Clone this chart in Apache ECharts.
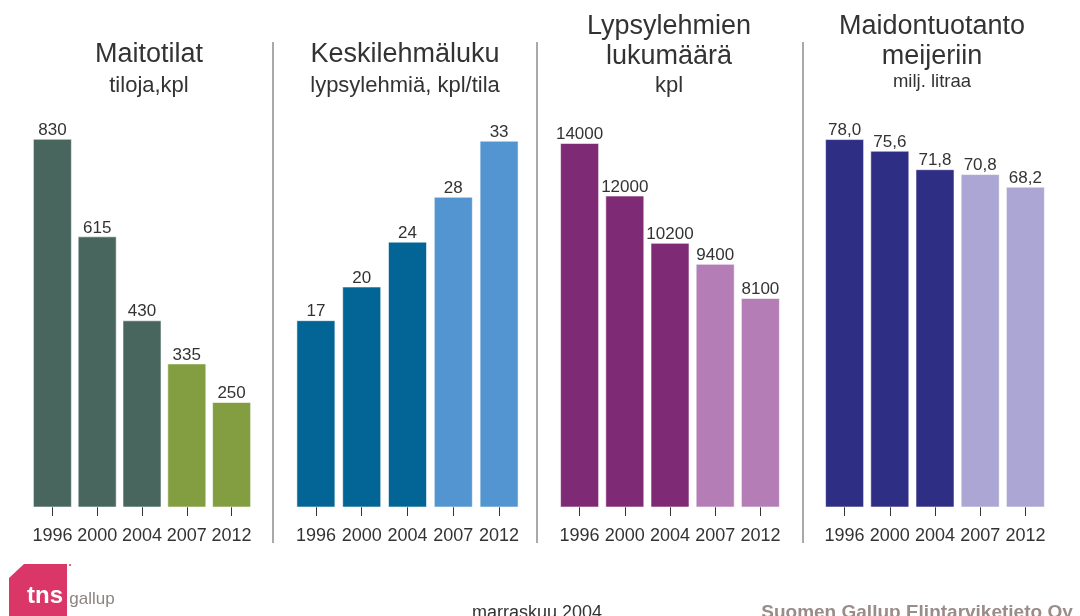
<!DOCTYPE html>
<html>
<head>
<meta charset="utf-8">
<title>Maitotilat</title>
<script src="https://cdn.jsdelivr.net/npm/echarts@6/dist/echarts.min.js"></script>
<style>
  html, body { margin: 0; padding: 0; background: #fff; }
  #main { width: 1080px; height: 616px; }
</style>
</head>
<body>
<div id="main"></div>
<script>
// vuodet ja arvot
const years = ['1996', '2000', '2004', '2007', '2012']
const ennuste = [false, false, false, true, true] // 2007 ja 2012 vaaleammalla
const maitotilat = [830, 615, 430, 335, 250]
const keskilehmaluku = [17, 20, 24, 28, 33]
const lypsylehmat = [14000, 12000, 10200, 9400, 8100]
const maidontuotanto = [78.0, 75.6, 71.8, 70.8, 68.2]

const FONT = '"Liberation Sans", Arial, Helvetica, sans-serif'
const TEXT = '#333'

// paneelit: grid-paikat, akselin rajat ja värit
const panels = [
  { data: maitotilat, left: 30, width: 224, min: 18.6, max: 900, colors: ['#48665e', '#829e41'] },
  { data: keskilehmaluku, left: 293, width: 229, min: 0.35, max: 36, colors: ['#036596', '#5295d0'] },
  { data: lypsylehmat, left: 557, width: 226, min: 145, max: 15371, colors: ['#7f2a74', '#b47db6'] },
  { data: maidontuotanto, left: 822, width: 226, min: 2.27, max: 84.6, colors: ['#2e2e84', '#aba6d3'], decimals: true }
]

const grid = [], xAxis = [], yAxis = [], series = []
panels.forEach((p, i) => {
  grid.push({ left: p.left, width: p.width, top: 107, bottom: 109 })
  xAxis.push({
    type: 'category',
    gridIndex: i,
    data: years,
    axisLine: { show: false },
    axisTick: { show: true, alignWithLabel: true, length: 9, lineStyle: { color: '#333', width: 1 } },
    axisLabel: { color: TEXT, fontSize: 18, fontFamily: FONT, margin: 20, interval: 0 }
  })
  yAxis.push({
    type: 'value',
    gridIndex: i,
    min: p.min,
    max: p.max,
    show: false,
    splitLine: { show: false }
  })
  series.push({
    type: 'bar',
    xAxisIndex: i,
    yAxisIndex: i,
    barWidth: 39,
    data: p.data.map((v, j) => ({
      value: v,
      itemStyle: { color: ennuste[j] ? p.colors[1] : p.colors[0] }
    })),
    itemStyle: { borderColor: 'rgba(255,255,255,0.55)', borderWidth: 1 },
    label: {
      show: true,
      position: 'top',
      distance: 0,
      color: TEXT,
      fontSize: 17,
      fontFamily: FONT,
      formatter: prm => p.decimals ? prm.value.toFixed(1).replace('.', ',') : String(prm.value)
    }
  })
})

function txt(x, y, text, size, extra) {
  return {
    type: 'text', x, y,
    style: Object.assign({
      text, fill: TEXT, font: size + 'px ' + FONT,
      textAlign: 'center', textVerticalAlign: 'middle'
    }, extra || {})
  }
}
function vline(x) {
  return { type: 'line', shape: { x1: x, y1: 42, x2: x, y2: 543 }, style: { stroke: '#8c8c8c', lineWidth: 1.5 } }
}

const graphic = [
  vline(273), vline(537), vline(803),
  // otsikot
  txt(149, 55, 'Maitotilat', 27),
  txt(149, 86, 'tiloja,kpl', 22),
  txt(405, 55, 'Keskilehmäluku', 27),
  txt(405, 86, 'lypsylehmiä, kpl/tila', 22),
  txt(669, 27, 'Lypsylehmien', 27),
  txt(669, 57, 'lukumäärä', 27),
  txt(669, 86, 'kpl', 22),
  txt(932, 27, 'Maidontuotanto', 27),
  txt(932, 57, 'meijeriin', 27),
  txt(932, 82, 'milj. litraa', 18.5),
  // logo
  {
    type: 'polygon',
    shape: { points: [[24, 564], [67, 564], [67, 616], [9, 616], [9, 578]] },
    style: { fill: '#da3768' }
  },
  { type: 'circle', shape: { cx: 70, cy: 565, r: 1 }, style: { fill: '#da3768' } },
  txt(45, 596, 'tns', 24, { fill: '#fff', font: 'bold 24px ' + FONT }),
  txt(92, 599, 'gallup', 17, { fill: '#8c8480' }),
  // alatunniste
  txt(537, 613, 'marraskuu 2004', 18),
  txt(917, 613, 'Suomen Gallup Elintarviketieto Oy', 19, { fill: '#9a8c88', font: 'bold 19px ' + FONT })
]

const myChart = echarts.init(document.getElementById('main'), null, { renderer: 'canvas' })
myChart.setOption({
  animation: false,
  backgroundColor: '#fff',
  grid, xAxis, yAxis, series, graphic
})
</script>
</body>
</html>
